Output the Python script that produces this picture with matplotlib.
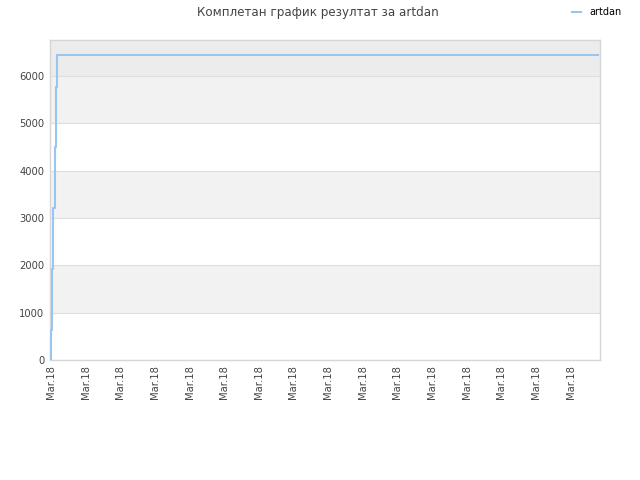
import matplotlib

matplotlib.use("Agg")
import matplotlib.pyplot as plt

# step times in tick units (one tick = one "Mar.18" label) and cumulative score
times = [0.0, 0.0, 0.04, 0.07, 0.10, 0.13, 0.16, 15.8]
scores = [0, 640, 1920, 3210, 4500, 5775, 6450, 6450]
tick_pos = list(range(16))
tick_labels = ["Mar.18"] * 16
series_name = "artdan"
title = "Комплетан график резултат за artdan"

fig = plt.figure(figsize=(6.4, 4.8), dpi=100)
ax = fig.add_axes([50 / 640, 1 - 360 / 480, 550 / 640, 320 / 480])

ymax = 6760
# alternating horizontal bands
band_colors = ["#ffffff", "#f2f2f2", "#ffffff", "#f2f2f2", "#ffffff", "#f2f2f2", "#ececec"]
for i, c in enumerate(band_colors):
    ax.axhspan(i * 1000, (i + 1) * 1000, color=c, zorder=0, lw=0)
for y in range(1000, 7000, 1000):
    ax.axhline(y, color="#dedede", lw=0.8, zorder=1)

ax.plot(times, scores, drawstyle="steps-post", color="#99c5f3", lw=1.5, zorder=3,
        label=series_name)

ax.set_xlim(-0.03, 15.85)
ax.set_ylim(0, ymax)
ax.set_yticks(range(0, 7000, 1000))
ax.set_xticks(tick_pos)
ax.set_xticklabels(tick_labels, rotation=90)
ax.tick_params(axis="both", length=0, labelsize=7.2, colors="#444444", pad=4)

for s in ax.spines.values():
    s.set_color("#d6d6d6")
    s.set_linewidth(1)

fig.text(0.497, 0.988, title, ha="center", va="top", fontsize=8.6, color="#444444")
fig.legend(loc="upper right", bbox_to_anchor=(0.985, 1.003), frameon=False,
           fontsize=7, handlelength=0.9, handletextpad=0.9)

fig.savefig("out.png", dpi=100)
